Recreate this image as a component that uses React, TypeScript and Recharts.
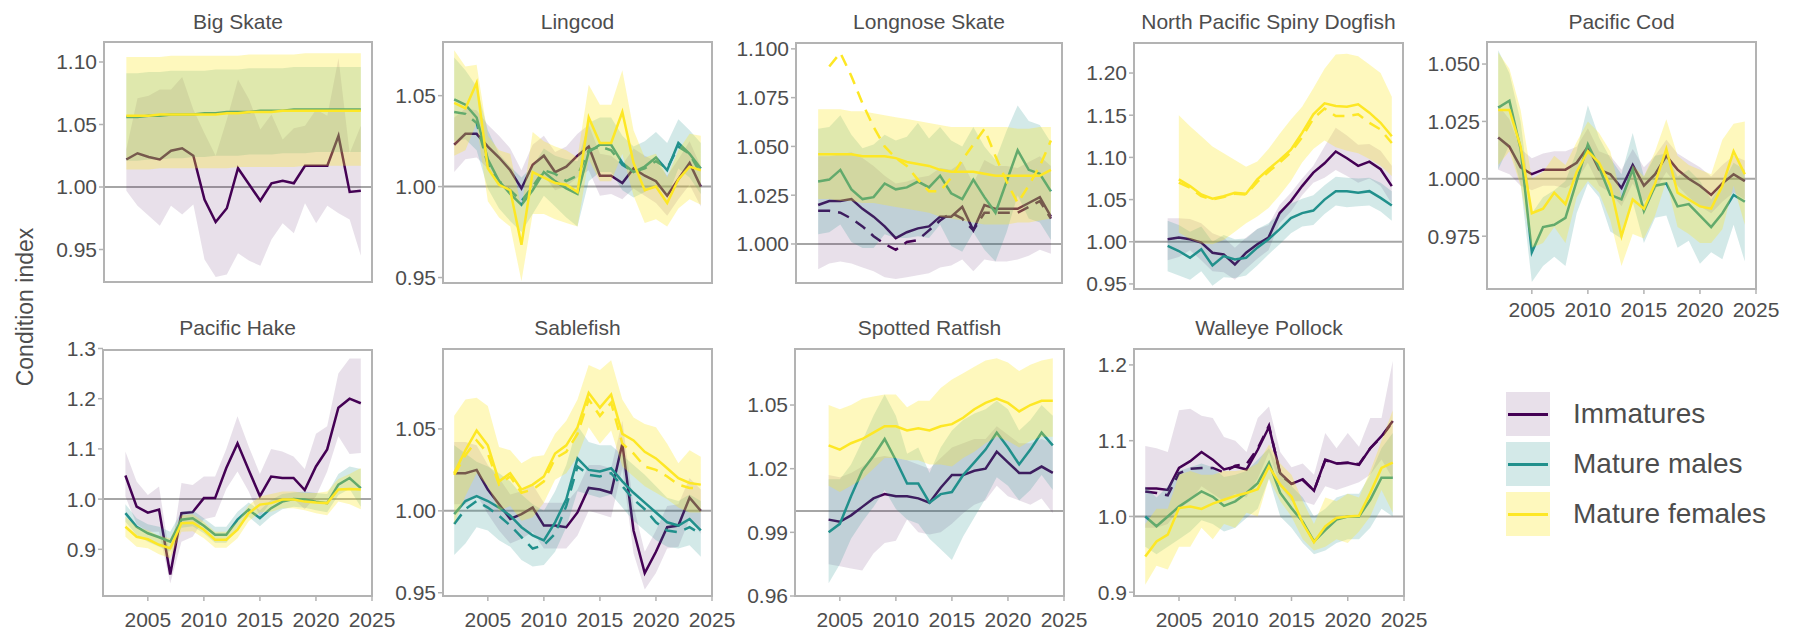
import { ComposedChart, Line, Area, XAxis, YAxis, ReferenceLine, ReferenceArea } from 'recharts';

const FONT = '"Liberation Sans", Arial, Helvetica, sans-serif';
const INK = '#4d4d4d';
const FRAME = '#b3b3b3';

type Num = number | null;

const groups = [
  { key: 'imm', name: 'Immatures', color: '#440154', ribbon: 0.12 },
  { key: 'male', name: 'Mature males', color: '#21908c', ribbon: 0.2 },
  { key: 'female', name: 'Mature females', color: '#fde725', ribbon: 0.3 },
];

const xTicks = [2005, 2010, 2015, 2020, 2025];

const years02 = [2002, 2003, 2004, 2005, 2006, 2007, 2008, 2009, 2010, 2011, 2012, 2013, 2014, 2015, 2016, 2017, 2018, 2019, 2020, 2021, 2022, 2023, 2024];
const years03 = [2003, 2004, 2005, 2006, 2007, 2008, 2009, 2010, 2011, 2012, 2013, 2014, 2015, 2016, 2017, 2018, 2019, 2020, 2021, 2022, 2023, 2024];
const years04 = [2004, 2005, 2006, 2007, 2008, 2009, 2010, 2011, 2012, 2013, 2014, 2015, 2016, 2017, 2018, 2019, 2020, 2021, 2022, 2023, 2024];

// Big Skate (2003-2024)
const bsImm = [1.022, 1.027, 1.024, 1.022, 1.029, 1.031, 1.025, 0.990, 0.972, 0.983, 1.015, 1.002, 0.989, 1.003, 1.005, 1.003, 1.017, 1.017, 1.017, 1.041, 0.996, 0.997];
const bsImmLo = [0.997, 0.985, 0.977, 0.969, 0.985, 0.978, 0.986, 0.942, 0.928, 0.930, 0.947, 0.941, 0.937, 0.958, 0.971, 0.963, 0.987, 0.971, 0.985, 0.979, 0.974, 0.945];
const bsImmHi = [1.030, 1.071, 1.073, 1.078, 1.078, 1.088, 1.062, 1.043, 1.025, 1.054, 1.086, 1.070, 1.046, 1.058, 1.038, 1.047, 1.049, 1.062, 1.057, 1.103, 1.027, 1.049];
const bsMale = [1.056, 1.056, 1.057, 1.057, 1.058, 1.058, 1.058, 1.059, 1.059, 1.060, 1.060, 1.060, 1.061, 1.061, 1.061, 1.062, 1.062, 1.062, 1.062, 1.062, 1.062, 1.062];
const bsMaleLo = [1.021, 1.021, 1.022, 1.022, 1.023, 1.023, 1.024, 1.024, 1.025, 1.025, 1.025, 1.026, 1.026, 1.026, 1.027, 1.027, 1.027, 1.028, 1.028, 1.028, 1.028, 1.028];
const bsMaleHi = [1.091, 1.091, 1.092, 1.092, 1.093, 1.093, 1.093, 1.093, 1.094, 1.094, 1.094, 1.095, 1.095, 1.095, 1.095, 1.096, 1.096, 1.096, 1.096, 1.096, 1.096, 1.096];
const bsFemale = [1.057, 1.057, 1.057, 1.058, 1.058, 1.058, 1.058, 1.058, 1.058, 1.059, 1.059, 1.060, 1.060, 1.060, 1.061, 1.061, 1.061, 1.061, 1.061, 1.061, 1.061, 1.061];
const bsFemaleLo = [1.014, 1.014, 1.014, 1.015, 1.015, 1.015, 1.015, 1.015, 1.015, 1.015, 1.016, 1.016, 1.016, 1.016, 1.016, 1.016, 1.017, 1.017, 1.017, 1.017, 1.017, 1.017];
const bsFemaleHi = [1.104, 1.104, 1.104, 1.104, 1.105, 1.105, 1.105, 1.105, 1.105, 1.105, 1.105, 1.106, 1.106, 1.106, 1.106, 1.106, 1.107, 1.107, 1.107, 1.107, 1.107, 1.107];

// Lingcod (2002-2024)
const lcImm = [1.023, 1.029, 1.029, 1.022, 1.016, 1.009, 0.999, 1.012, 1.017, 1.008, 1.011, 1.017, 1.022, 1.006, 1.006, 1.002, 1.010, 1.006, 1.003, 0.995, 1.004, 1.013, 1.000];
const lcImmLo = [1.008, 1.015, 1.016, 1.010, 1.004, 0.997, 0.990, 1.001, 1.006, 0.998, 1.000, 1.005, 1.009, 0.995, 0.996, 0.993, 0.999, 0.995, 0.991, 0.984, 0.993, 1.001, 0.989];
const lcImmHi = [1.038, 1.043, 1.042, 1.034, 1.028, 1.021, 1.009, 1.023, 1.028, 1.019, 1.022, 1.029, 1.034, 1.018, 1.017, 1.012, 1.021, 1.017, 1.014, 1.006, 1.015, 1.025, 1.011];
const lcMale = [1.048, 1.045, 1.038, 1.015, 1.003, 0.996, 0.990, 0.998, 1.008, 1.003, 0.999, 0.996, 1.019, 1.023, 1.023, 1.013, 1.008, 1.011, 1.016, 1.009, 1.024, 1.018, 1.010];
const lcMaleDash = [1.041, 1.040, 1.035, 1.012, 1.003, 0.998, 0.992, 1.000, 1.009, 1.007, 1.003, 1.006, 1.020, 1.022, 1.020, 1.012, 1.008, 1.010, 1.014, 1.010, 1.022, 1.018, 1.007];
const lcMaleLo = [1.025, 1.026, 1.020, 0.999, 0.988, 0.981, 0.975, 0.985, 0.995, 0.989, 0.983, 0.978, 1.003, 1.008, 1.008, 0.998, 0.994, 0.997, 1.001, 0.994, 1.010, 1.005, 0.996];
const lcMaleHi = [1.071, 1.064, 1.055, 1.031, 1.018, 1.011, 1.005, 1.011, 1.021, 1.017, 1.015, 1.014, 1.035, 1.038, 1.038, 1.028, 1.022, 1.025, 1.030, 1.024, 1.037, 1.031, 1.024];
const lcFemale = [1.046, 1.043, 1.057, 1.010, 1.001, 0.998, 0.968, 1.008, 1.005, 1.002, 1.001, 0.997, 1.038, 1.024, 1.024, 1.041, 1.013, 0.998, 1.000, 0.991, 1.004, 1.011, 1.009];
const lcFemaleLo = [1.017, 1.020, 1.035, 0.992, 0.983, 0.978, 0.948, 0.985, 0.985, 0.982, 0.980, 0.978, 1.015, 1.003, 1.003, 1.018, 0.995, 0.980, 0.982, 0.978, 0.988, 0.993, 0.990];
const lcFemaleHi = [1.075, 1.066, 1.067, 1.028, 1.020, 1.018, 0.988, 1.030, 1.025, 1.022, 1.020, 1.016, 1.056, 1.045, 1.045, 1.064, 1.031, 1.016, 1.018, 1.005, 1.020, 1.029, 1.028];

// Longnose Skate (2003-2024)
const lnImm = [1.020, 1.022, 1.022, 1.023, 1.018, 1.014, 1.009, 1.003, 1.006, 1.008, 1.009, 1.014, 1.014, 1.019, 1.007, 1.020, 1.018, 1.018, 1.018, 1.021, 1.024, 1.014];
const lnImmDash = [1.017, 1.017, 1.016, 1.013, 1.009, 1.004, 1.000, 0.997, 1.001, 1.002, 1.007, 1.012, 1.016, 1.013, 1.007, 1.016, 1.016, 1.016, 1.016, 1.019, 1.022, 1.013];
const lnImmLo = [0.987, 0.990, 0.991, 0.990, 0.988, 0.986, 0.983, 0.982, 0.983, 0.984, 0.985, 0.988, 0.989, 0.992, 0.986, 0.992, 0.991, 0.991, 0.992, 0.994, 0.997, 0.995];
const lnImmHi = [1.045, 1.045, 1.046, 1.047, 1.044, 1.040, 1.035, 1.031, 1.032, 1.034, 1.035, 1.039, 1.038, 1.042, 1.031, 1.043, 1.040, 1.040, 1.039, 1.042, 1.045, 1.040];
const lnMale = [1.032, 1.033, 1.038, 1.028, 1.023, 1.024, 1.031, 1.028, 1.029, 1.032, 1.029, 1.035, 1.026, 1.023, 1.033, 1.024, 1.016, 1.032, 1.048, 1.038, 1.036, 1.027];
const lnMaleLo = [1.005, 1.006, 1.010, 1.001, 0.998, 0.998, 1.005, 1.003, 1.003, 1.004, 1.003, 1.010, 0.999, 0.996, 1.006, 0.997, 0.991, 1.006, 1.025, 1.013, 1.011, 1.002];
const lnMaleHi = [1.059, 1.060, 1.066, 1.056, 1.049, 1.051, 1.056, 1.053, 1.055, 1.062, 1.054, 1.060, 1.053, 1.050, 1.060, 1.050, 1.043, 1.058, 1.071, 1.063, 1.061, 1.052];
const lnFemale = [1.046, 1.046, 1.046, 1.046, 1.045, 1.045, 1.045, 1.044, 1.042, 1.041, 1.040, 1.038, 1.037, 1.037, 1.037, 1.036, 1.035, 1.035, 1.035, 1.035, 1.035, 1.038];
const lnFemaleDash: Num[] = [null, 1.091, 1.098, 1.086, 1.072, 1.060, 1.050, 1.044, 1.040, 1.033, 1.027, 1.027, 1.034, 1.043, 1.051, 1.059, 1.045, 1.032, 1.021, 1.030, 1.040, 1.053];
const lnFemaleLo = [1.023, 1.023, 1.022, 1.022, 1.021, 1.021, 1.020, 1.019, 1.018, 1.017, 1.016, 1.014, 1.013, 1.012, 1.011, 1.010, 1.010, 1.010, 1.011, 1.011, 1.012, 1.013];
const lnFemaleHi = [1.069, 1.069, 1.069, 1.068, 1.068, 1.067, 1.066, 1.065, 1.064, 1.063, 1.062, 1.061, 1.060, 1.060, 1.060, 1.060, 1.060, 1.060, 1.059, 1.059, 1.060, 1.060];

// North Pacific Spiny Dogfish (2004-2024)
const dfImm = [1.003, 1.005, 1.003, 0.999, 0.987, 0.985, 0.973, 0.987, 0.997, 1.005, 1.034, 1.048, 1.066, 1.082, 1.093, 1.107, 1.099, 1.090, 1.095, 1.086, 1.066];
const dfImmLo = [0.978, 0.982, 0.990, 0.978, 0.965, 0.964, 0.955, 0.968, 0.980, 0.990, 1.022, 1.036, 1.055, 1.070, 1.076, 1.085, 1.078, 1.070, 1.075, 1.066, 1.045];
const dfImmHi = [1.028, 1.028, 1.027, 1.022, 1.010, 1.005, 0.993, 1.005, 1.015, 1.020, 1.044, 1.058, 1.075, 1.090, 1.113, 1.135, 1.126, 1.115, 1.116, 1.108, 1.090];
const dfMale = [0.995, 0.989, 0.981, 0.991, 0.972, 0.983, 0.979, 0.981, 0.993, 1.003, 1.015, 1.028, 1.034, 1.037, 1.050, 1.060, 1.060, 1.058, 1.060, 1.052, 1.043];
const dfMaleLo = [0.965, 0.960, 0.955, 0.965, 0.948, 0.958, 0.957, 0.960, 0.972, 0.985, 0.997, 1.010, 1.018, 1.020, 1.033, 1.043, 1.041, 1.042, 1.043, 1.036, 1.025];
const dfMaleHi = [1.025, 1.020, 1.012, 1.018, 1.000, 1.008, 1.003, 1.004, 1.015, 1.022, 1.033, 1.045, 1.051, 1.055, 1.067, 1.077, 1.076, 1.075, 1.076, 1.070, 1.060];
const dfFemale: Num[] = [null, 1.074, 1.066, 1.056, 1.051, 1.054, 1.058, 1.057, 1.074, 1.086, 1.097, 1.109, 1.129, 1.151, 1.164, 1.161, 1.160, 1.163, 1.153, 1.141, 1.125];
const dfFemaleDash: Num[] = [null, 1.070, 1.064, 1.054, 1.050, 1.053, 1.057, 1.056, 1.071, 1.083, 1.094, 1.106, 1.124, 1.146, 1.158, 1.149, 1.149, 1.151, 1.141, 1.133, 1.117];
const dfFemaleLo: Num[] = [null, 1.011, 1.003, 0.998, 0.997, 1.002, 1.012, 1.022, 1.030, 1.040, 1.055, 1.072, 1.094, 1.110, 1.120, 1.112, 1.108, 1.105, 1.098, 1.090, 1.078];
const dfFemaleHi: Num[] = [null, 1.150, 1.137, 1.125, 1.113, 1.105, 1.097, 1.089, 1.095, 1.110, 1.128, 1.145, 1.160, 1.182, 1.205, 1.222, 1.223, 1.220, 1.210, 1.200, 1.172];

// Pacific Cod (2002-2024)
const pcImm = [1.018, 1.014, 1.005, 1.002, 1.004, 1.004, 1.004, 1.007, 1.014, 1.004, 1.002, 0.996, 1.006, 0.997, 1.002, 1.010, 1.004, 1.000, 0.997, 0.993, 0.998, 1.002, 0.999];
const pcImmLo = [1.004, 1.002, 0.997, 0.995, 0.997, 0.997, 0.996, 0.999, 1.007, 0.997, 0.994, 0.988, 0.998, 0.990, 0.995, 1.003, 0.997, 0.992, 0.988, 0.985, 0.990, 0.994, 0.991];
const pcImmHi = [1.032, 1.026, 1.013, 1.009, 1.011, 1.012, 1.012, 1.014, 1.022, 1.012, 1.010, 1.004, 1.013, 1.005, 1.010, 1.017, 1.011, 1.008, 1.005, 1.001, 1.006, 1.010, 1.008];
const pcMale = [1.031, 1.034, 1.013, 0.968, 0.979, 0.980, 0.983, 0.999, 1.015, 1.005, 0.993, 0.991, 1.004, 0.986, 0.997, 0.998, 0.988, 0.989, 0.984, 0.979, 0.985, 0.993, 0.990];
const pcMaleLo = [1.004, 1.015, 0.998, 0.955, 0.962, 0.966, 0.962, 0.985, 0.998, 0.992, 0.977, 0.974, 0.990, 0.972, 0.983, 0.984, 0.970, 0.973, 0.963, 0.968, 0.965, 0.980, 0.964];
const pcMaleHi = [1.056, 1.046, 1.025, 0.985, 0.992, 0.995, 0.999, 1.012, 1.032, 1.018, 1.009, 1.002, 1.020, 1.001, 1.010, 1.011, 1.001, 1.004, 0.999, 0.991, 0.998, 1.007, 1.004];
const pcFemale = [1.030, 1.030, 1.014, 0.985, 0.987, 0.994, 0.989, 1.003, 1.012, 1.007, 0.997, 0.975, 0.991, 0.987, 0.998, 1.013, 0.994, 0.991, 0.988, 0.987, 0.997, 1.012, 1.002];
const pcFemaleLo = [1.006, 1.012, 0.997, 0.970, 0.972, 0.979, 0.972, 0.992, 0.999, 0.994, 0.982, 0.962, 0.976, 0.974, 0.984, 0.999, 0.979, 0.976, 0.972, 0.972, 0.978, 0.997, 0.980];
const pcFemaleHi = [1.055, 1.048, 1.030, 1.000, 1.003, 1.010, 1.006, 1.016, 1.025, 1.020, 1.012, 0.992, 1.006, 1.001, 1.012, 1.026, 1.010, 1.006, 1.004, 1.002, 1.017, 1.024, 1.025];

// Pacific Hake (2003-2024)
const phImm = [1.047, 0.985, 0.973, 0.979, 0.850, 0.972, 0.974, 1.002, 1.002, 1.062, 1.111, 1.058, 1.006, 1.045, 1.042, 1.042, 1.018, 1.065, 1.099, 1.182, 1.200, 1.191];
const phImmLo = [1.005, 0.950, 0.935, 0.935, 0.832, 0.915, 0.925, 0.960, 0.965, 1.020, 1.055, 1.015, 0.965, 0.995, 0.995, 1.000, 0.980, 1.005, 1.055, 1.125, 1.090, 1.092];
const phImmHi = [1.095, 1.035, 1.008, 1.025, 0.880, 1.032, 1.028, 1.045, 1.045, 1.100, 1.165, 1.105, 1.050, 1.100, 1.095, 1.085, 1.060, 1.130, 1.145, 1.250, 1.280, 1.280];
const phMale = [0.972, 0.945, 0.932, 0.924, 0.915, 0.959, 0.962, 0.947, 0.929, 0.929, 0.959, 0.979, 0.962, 0.982, 0.995, 1.000, 0.999, 0.995, 0.992, 1.029, 1.042, 1.022];
const phMaleLo = [0.955, 0.928, 0.915, 0.905, 0.895, 0.943, 0.946, 0.932, 0.913, 0.913, 0.943, 0.965, 0.946, 0.966, 0.980, 0.985, 0.983, 0.978, 0.974, 1.008, 1.020, 0.985];
const phMaleHi = [0.990, 0.962, 0.950, 0.945, 0.935, 0.975, 0.978, 0.962, 0.945, 0.945, 0.975, 0.993, 0.978, 0.998, 1.010, 1.013, 1.015, 1.012, 1.010, 1.050, 1.065, 1.060];
const phFemale = [0.945, 0.925, 0.920, 0.909, 0.902, 0.952, 0.953, 0.939, 0.919, 0.919, 0.939, 0.972, 0.989, 0.992, 0.999, 0.999, 0.995, 0.993, 0.992, 1.019, 1.020, 1.019];
const phFemaleLo = [0.925, 0.905, 0.902, 0.890, 0.882, 0.935, 0.936, 0.922, 0.903, 0.903, 0.922, 0.956, 0.974, 0.975, 0.982, 0.982, 0.978, 0.972, 0.968, 0.995, 0.990, 0.980];
const phFemaleHi = [0.965, 0.945, 0.938, 0.927, 0.922, 0.968, 0.970, 0.955, 0.935, 0.935, 0.955, 0.988, 1.005, 1.010, 1.015, 1.015, 1.012, 1.012, 1.015, 1.040, 1.050, 1.062];

// Sablefish (2002-2024)
const sfImm = [1.023, 1.023, 1.025, 1.013, 1.004, 0.995, 0.998, 1.002, 0.991, 0.991, 0.990, 0.999, 1.014, 1.013, 1.011, 1.041, 0.988, 0.962, 0.975, 0.990, 0.991, 1.008, 1.000];
const sfImmLo = [1.004, 1.004, 1.010, 0.998, 0.988, 0.980, 0.983, 0.987, 0.977, 0.977, 0.977, 0.985, 1.000, 0.998, 0.996, 1.026, 0.974, 0.952, 0.962, 0.977, 0.978, 0.995, 0.986];
const sfImmHi = [1.042, 1.042, 1.040, 1.028, 1.020, 1.010, 1.012, 1.016, 1.005, 1.005, 1.005, 1.013, 1.028, 1.028, 1.026, 1.055, 1.003, 0.975, 0.988, 1.003, 1.004, 1.020, 1.013];
const sfMale = [0.998, 1.006, 1.009, 1.006, 1.002, 0.997, 0.990, 0.985, 0.982, 0.993, 1.007, 1.032, 1.025, 1.024, 1.026, 1.018, 1.011, 1.005, 0.999, 0.993, 0.991, 0.995, 0.988];
const sfMaleDash = [0.992, 1.001, 1.006, 1.002, 0.997, 0.991, 0.984, 0.977, 0.979, 0.986, 1.003, 1.027, 1.022, 1.021, 1.023, 1.015, 1.007, 1.001, 0.993, 0.988, 0.987, 0.990, 0.986];
const sfMaleLo = [0.973, 0.980, 0.990, 0.988, 0.982, 0.978, 0.970, 0.966, 0.967, 0.975, 0.990, 1.012, 1.010, 1.008, 1.010, 1.002, 0.994, 0.988, 0.982, 0.978, 0.977, 0.979, 0.972];
const sfMaleHi = [1.040, 1.035, 1.030, 1.027, 1.023, 1.018, 1.010, 1.004, 1.000, 1.012, 1.028, 1.052, 1.042, 1.040, 1.040, 1.034, 1.028, 1.022, 1.015, 1.008, 1.006, 1.010, 1.006];
const sfFemale = [1.023, 1.037, 1.049, 1.040, 1.018, 1.023, 1.013, 1.016, 1.021, 1.035, 1.040, 1.051, 1.072, 1.063, 1.071, 1.047, 1.043, 1.036, 1.032, 1.026, 1.020, 1.017, 1.016];
const sfFemaleDash = [1.022, 1.034, 1.043, 1.035, 1.016, 1.021, 1.011, 1.013, 1.018, 1.032, 1.036, 1.047, 1.068, 1.058, 1.066, 1.041, 1.035, 1.027, 1.025, 1.021, 1.016, 1.014, 1.014];
const sfFemaleLo = [0.992, 1.009, 1.023, 1.015, 1.000, 1.003, 0.994, 0.996, 1.005, 1.019, 1.023, 1.033, 1.051, 1.041, 1.049, 1.027, 1.021, 1.015, 1.011, 1.007, 1.002, 0.999, 0.999];
const sfFemaleHi = [1.058, 1.068, 1.069, 1.064, 1.039, 1.037, 1.029, 1.033, 1.034, 1.047, 1.055, 1.068, 1.089, 1.086, 1.092, 1.068, 1.057, 1.053, 1.051, 1.041, 1.029, 1.037, 1.033];

// Spotted Ratfish (2004-2024)
const srImm = [0.996, 0.995, 0.998, 1.002, 1.006, 1.008, 1.007, 1.007, 1.006, 1.004, 1.011, 1.017, 1.017, 1.019, 1.020, 1.028, 1.023, 1.018, 1.018, 1.021, 1.018];
const srImmLo = [0.975, 0.974, 0.973, 0.972, 0.980, 0.985, 0.986, 0.996, 0.990, 0.989, 0.990, 0.994, 0.999, 1.003, 1.005, 1.012, 1.007, 1.005, 1.003, 1.006, 0.999];
const srImmHi = [1.017, 1.016, 1.018, 1.021, 1.025, 1.026, 1.025, 1.024, 1.022, 1.020, 1.025, 1.030, 1.032, 1.034, 1.034, 1.040, 1.036, 1.032, 1.032, 1.034, 1.032];
const srMale = [0.990, 0.994, 1.007, 1.019, 1.026, 1.034, 1.024, 1.013, 1.013, 1.004, 1.008, 1.009, 1.017, 1.023, 1.029, 1.037, 1.030, 1.022, 1.029, 1.037, 1.031];
const srMaleLo = [0.966, 0.975, 0.987, 0.995, 1.002, 1.010, 1.001, 0.996, 0.994, 0.987, 0.982, 0.977, 0.988, 0.997, 1.006, 1.016, 1.012, 1.005, 1.010, 1.017, 1.010];
const srMaleHi = [1.015, 1.015, 1.022, 1.033, 1.045, 1.055, 1.045, 1.027, 1.030, 1.018, 1.030, 1.038, 1.043, 1.046, 1.048, 1.052, 1.048, 1.038, 1.043, 1.050, 1.045];
const srFemale = [1.031, 1.029, 1.032, 1.034, 1.037, 1.040, 1.040, 1.038, 1.039, 1.038, 1.040, 1.041, 1.044, 1.048, 1.051, 1.053, 1.051, 1.047, 1.050, 1.052, 1.052];
const srFemaleLo = [1.012, 1.009, 1.012, 1.015, 1.020, 1.025, 1.025, 1.024, 1.024, 1.022, 1.022, 1.021, 1.025, 1.028, 1.032, 1.035, 1.033, 1.030, 1.033, 1.035, 1.035];
const srFemaleHi = [1.050, 1.048, 1.050, 1.053, 1.054, 1.055, 1.055, 1.049, 1.052, 1.052, 1.058, 1.062, 1.065, 1.068, 1.071, 1.072, 1.070, 1.066, 1.069, 1.071, 1.072];

// Walleye Pollock (2002-2024)
const wpImm = [1.037, 1.037, 1.035, 1.064, 1.073, 1.085, 1.075, 1.062, 1.066, 1.062, 1.088, 1.118, 1.057, 1.043, 1.049, 1.034, 1.075, 1.070, 1.071, 1.068, 1.090, 1.106, 1.126];
const wpImmDash = [1.033, 1.031, 1.028, 1.057, 1.063, 1.064, 1.064, 1.058, 1.067, 1.069, 1.090, 1.120, 1.055, 1.043, 1.048, 1.034, 1.074, 1.070, 1.071, 1.069, 1.090, 1.105, 1.125];
const wpImmLo = [0.985, 0.985, 0.990, 1.010, 1.020, 1.040, 1.030, 1.020, 1.030, 1.025, 1.050, 1.085, 1.040, 1.020, 1.020, 1.015, 1.040, 1.035, 1.040, 1.045, 1.055, 1.075, 1.050];
const wpImmHi = [1.093, 1.090, 1.085, 1.140, 1.142, 1.133, 1.130, 1.105, 1.100, 1.085, 1.130, 1.145, 1.085, 1.065, 1.070, 1.055, 1.110, 1.090, 1.110, 1.092, 1.130, 1.130, 1.205];
const wpMale = [1.000, 0.987, 1.000, 1.013, 1.023, 1.033, 1.026, 1.014, 1.020, 1.031, 1.044, 1.071, 1.031, 1.011, 0.993, 0.967, 0.982, 0.996, 1.000, 1.000, 1.022, 1.051, 1.051];
const wpMaleLo = [0.960, 0.950, 0.960, 0.970, 0.980, 0.995, 0.990, 0.980, 0.985, 0.998, 1.010, 1.050, 1.000, 0.985, 0.965, 0.950, 0.955, 0.965, 0.970, 0.970, 0.985, 1.010, 1.000];
const wpMaleHi = [1.040, 1.025, 1.040, 1.060, 1.065, 1.070, 1.065, 1.052, 1.055, 1.060, 1.075, 1.090, 1.060, 1.040, 1.025, 1.000, 1.010, 1.025, 1.030, 1.030, 1.055, 1.090, 1.110];
const wpFemale = [0.947, 0.967, 0.976, 1.011, 1.013, 1.010, 1.017, 1.022, 1.027, 1.031, 1.036, 1.066, 1.042, 1.026, 0.991, 0.966, 0.987, 0.998, 1.000, 1.001, 1.031, 1.064, 1.071];
const wpFemaleLo = [0.910, 0.935, 0.930, 0.960, 0.960, 0.985, 0.970, 0.990, 0.985, 1.005, 1.000, 1.050, 1.020, 1.000, 0.970, 0.955, 0.960, 0.970, 0.965, 0.980, 1.000, 1.035, 1.005];
const wpFemaleHi = [0.990, 1.010, 1.010, 1.055, 1.060, 1.055, 1.055, 1.060, 1.060, 1.062, 1.070, 1.095, 1.070, 1.055, 1.020, 0.990, 1.025, 1.020, 1.030, 1.025, 1.060, 1.100, 1.140];

type Band = { mid: Num[]; lo: Num[]; hi: Num[]; dash?: Num[] };
type PanelDef = {
  title: string;
  years: number[];
  imm: Band;
  male: Band;
  female: Band;
  domain: [number, number];
  ticks: number[];
  digits: number;
  box: [number, number, number, number];
  showX: boolean;
  xGap: number;
};

const panels: PanelDef[] = [
  {
    title: 'Big Skate', years: years03,
    imm: { mid: bsImm, lo: bsImmLo, hi: bsImmHi },
    male: { mid: bsMale, lo: bsMaleLo, hi: bsMaleHi },
    female: { mid: bsFemale, lo: bsFemaleLo, hi: bsFemaleHi },
    domain: [0.924, 1.116], ticks: [0.95, 1.0, 1.05, 1.1], digits: 2,
    box: [104, 42, 372, 282], showX: false, xGap: 0,
  },
  {
    title: 'Lingcod', years: years02,
    imm: { mid: lcImm, lo: lcImmLo, hi: lcImmHi },
    male: { mid: lcMale, lo: lcMaleLo, hi: lcMaleHi, dash: lcMaleDash },
    female: { mid: lcFemale, lo: lcFemaleLo, hi: lcFemaleHi },
    domain: [0.947, 1.0795], ticks: [0.95, 1.0, 1.05], digits: 2,
    box: [443, 42, 712, 283], showX: false, xGap: 0,
  },
  {
    title: 'Longnose Skate', years: years03,
    imm: { mid: lnImm, lo: lnImmLo, hi: lnImmHi, dash: lnImmDash },
    male: { mid: lnMale, lo: lnMaleLo, hi: lnMaleHi },
    female: { mid: lnFemale, lo: lnFemaleLo, hi: lnFemaleHi, dash: lnFemaleDash },
    domain: [0.98, 1.103], ticks: [1.0, 1.025, 1.05, 1.075, 1.1], digits: 3,
    box: [796, 43, 1062, 283], showX: false, xGap: 0,
  },
  {
    title: 'North Pacific Spiny Dogfish', years: years04,
    imm: { mid: dfImm, lo: dfImmLo, hi: dfImmHi },
    male: { mid: dfMale, lo: dfMaleLo, hi: dfMaleHi },
    female: { mid: dfFemale, lo: dfFemaleLo, hi: dfFemaleHi, dash: dfFemaleDash },
    domain: [0.944, 1.2356], ticks: [0.95, 1.0, 1.05, 1.1, 1.15, 1.2], digits: 2,
    box: [1134, 43, 1403, 289], showX: false, xGap: 0,
  },
  {
    title: 'Pacific Cod', years: years02,
    imm: { mid: pcImm, lo: pcImmLo, hi: pcImmHi },
    male: { mid: pcMale, lo: pcMaleLo, hi: pcMaleHi },
    female: { mid: pcFemale, lo: pcFemaleLo, hi: pcFemaleHi },
    domain: [0.952, 1.0596], ticks: [0.975, 1.0, 1.025, 1.05], digits: 3,
    box: [1487, 42, 1756, 289], showX: true, xGap: 8,
  },
  {
    title: 'Pacific Hake', years: years03,
    imm: { mid: phImm, lo: phImmLo, hi: phImmHi },
    male: { mid: phMale, lo: phMaleLo, hi: phMaleHi },
    female: { mid: phFemale, lo: phFemaleLo, hi: phFemaleHi },
    domain: [0.807, 1.297], ticks: [0.9, 1.0, 1.1, 1.2, 1.3], digits: 1,
    box: [103, 350, 372, 596], showX: true, xGap: 11,
  },
  {
    title: 'Sablefish', years: years02,
    imm: { mid: sfImm, lo: sfImmLo, hi: sfImmHi },
    male: { mid: sfMale, lo: sfMaleLo, hi: sfMaleHi, dash: sfMaleDash },
    female: { mid: sfFemale, lo: sfFemaleLo, hi: sfFemaleHi, dash: sfFemaleDash },
    domain: [0.948, 1.0988], ticks: [0.95, 1.0, 1.05], digits: 2,
    box: [443, 349, 712, 596], showX: true, xGap: 11,
  },
  {
    title: 'Spotted Ratfish', years: years04,
    imm: { mid: srImm, lo: srImmLo, hi: srImmHi },
    male: { mid: srMale, lo: srMaleLo, hi: srMaleHi },
    female: { mid: srFemale, lo: srFemaleLo, hi: srFemaleHi },
    domain: [0.96, 1.0764], ticks: [0.96, 0.99, 1.02, 1.05], digits: 2,
    box: [795, 349, 1064, 596], showX: true, xGap: 11,
  },
  {
    title: 'Walleye Pollock', years: years02,
    imm: { mid: wpImm, lo: wpImmLo, hi: wpImmHi, dash: wpImmDash },
    male: { mid: wpMale, lo: wpMaleLo, hi: wpMaleHi },
    female: { mid: wpFemale, lo: wpFemaleLo, hi: wpFemaleHi },
    domain: [0.895, 1.221], ticks: [0.9, 1.0, 1.1, 1.2], digits: 1,
    box: [1134, 349, 1404, 596], showX: true, xGap: 11,
  },
];

const tickStyle = { fill: INK, fontSize: 21, fontFamily: FONT };
const TOP = 20;

function Panel({ p }: { p: PanelDef }) {
  const [x0, y0, x1, y1] = p.box;
  const w = x1 - x0;
  const h = y1 - y0;
  const rows = p.years.map((year, i) => {
    const r: Record<string, Num> = { year };
    for (const g of groups) {
      const b = p[g.key as 'imm' | 'male' | 'female'];
      r[g.key] = b.mid[i];
      r[g.key + 'Lo'] = b.lo[i];
      r[g.key + 'Hi'] = b.hi[i];
      if (b.dash) r[g.key + 'Dash'] = b.dash[i];
    }
    return r;
  });

  // ribbon of each group is painted over the lines of the groups before it
  const layers = groups.flatMap((g, gi) => {
    const b = p[g.key as 'imm' | 'male' | 'female'];
    const z = 110 + gi * 10;
    const items = [
      <Area
        key={g.key + '-band'}
        type="linear"
        dataKey={(d: Record<string, Num>) => (d[g.key + 'Lo'] == null ? null : [d[g.key + 'Lo'], d[g.key + 'Hi']])}
        stroke="none"
        fill={g.color}
        fillOpacity={g.ribbon}
        dot={false}
        activeDot={false}
        isAnimationActive={false}
        zIndex={z}
      />,
      <Line
        key={g.key + '-line'}
        type="linear"
        dataKey={g.key}
        stroke={g.color}
        strokeWidth={2.5}
        dot={false}
        activeDot={false}
        isAnimationActive={false}
        zIndex={z + 1}
      />,
    ];
    if (b.dash) {
      items.push(
        <Line
          key={g.key + '-dash'}
          type="linear"
          dataKey={g.key + 'Dash'}
          stroke={g.color}
          strokeWidth={2.5}
          strokeDasharray="12 8"
          dot={false}
          activeDot={false}
          isAnimationActive={false}
          zIndex={z + 2}
        />
      );
    }
    return items;
  });

  return (
    <>
      <div
        style={{
          position: 'absolute', left: x0, width: w, top: y0 < 200 ? 9 : 315,
          textAlign: 'center', fontSize: 21, lineHeight: '26px', color: INK, whiteSpace: 'nowrap',
        }}
      >
        {p.title}
      </div>
      <div style={{ position: 'absolute', left: x0 - 70, top: y0 - TOP }}>
        <ComposedChart
          width={w + 100}
          height={h + TOP + 40}
          data={rows}
          margin={{ top: TOP, right: 30, left: 0, bottom: p.showX ? 0 : 40 }}
        >
          <XAxis
            type="number"
            dataKey="year"
            domain={[2001, 2025]}
            allowDataOverflow
            ticks={xTicks}
            interval={0}
            hide={!p.showX}
            height={40}
            tickSize={5}
            tickMargin={p.xGap}
            axisLine={false}
            tickLine={{ stroke: FRAME, strokeWidth: 1.5 }}
            tick={tickStyle}
          />
          <YAxis
            type="number"
            domain={p.domain}
            allowDataOverflow
            ticks={p.ticks}
            interval={0}
            width={70}
            tickSize={5}
            tickMargin={2}
            axisLine={false}
            tickLine={{ stroke: FRAME, strokeWidth: 1.5 }}
            tick={tickStyle}
            tickFormatter={(v: number) => v.toFixed(p.digits)}
          />
          <ReferenceLine y={1} stroke="#a6a6a6" strokeWidth={2} zIndex={105} />
          {layers}
          <ReferenceArea
            x1={2001}
            x2={2025}
            y1={p.domain[0]}
            y2={p.domain[1]}
            fill="none"
            stroke={FRAME}
            strokeWidth={2}
            ifOverflow="visible"
            zIndex={900}
          />
        </ComposedChart>
      </div>
    </>
  );
}

export default function App() {
  return (
    <div
      style={{
        position: 'absolute', left: 0, top: 0, width: 1797, height: 630,
        background: '#fff', fontFamily: FONT, overflow: 'hidden',
      }}
    >
      {panels.map((p) => (
        <Panel key={p.title} p={p} />
      ))}
      <div
        style={{
          position: 'absolute', left: 25, top: 307, transform: 'translate(-50%, -50%) rotate(-90deg)',
          fontSize: 23, color: INK, whiteSpace: 'nowrap',
        }}
      >
        Condition index
      </div>
      {groups.map((g, i) => (
        <div key={g.key}>
          <div
            style={{
              position: 'absolute', left: 1506, top: 392 + i * 50, width: 44, height: 44,
              background: g.color, opacity: g.ribbon,
            }}
          />
          <div
            style={{
              position: 'absolute', left: 1508, top: 392 + i * 50 + 20.5, width: 40, height: 3,
              background: g.color,
            }}
          />
          <div
            style={{
              position: 'absolute', left: 1573, top: 392 + i * 50, height: 44, lineHeight: '44px',
              fontSize: 28, color: INK, whiteSpace: 'nowrap',
            }}
          >
            {g.name}
          </div>
        </div>
      ))}
    </div>
  );
}
